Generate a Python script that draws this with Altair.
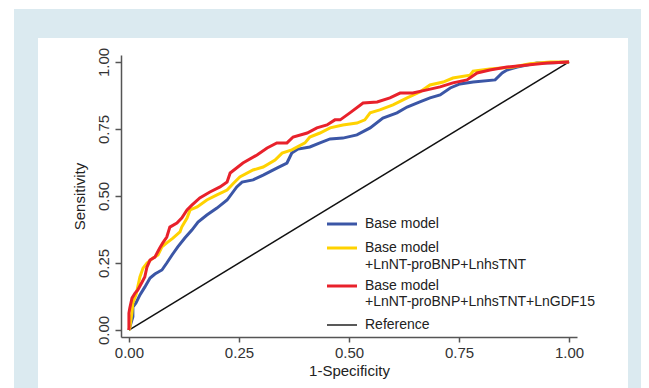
import altair as alt
import pandas as pd

# ROC curve points (1-Specificity, Sensitivity)
blue_x = [0, 0.009, 0.009, 0.016, 0.025, 0.036, 0.048, 0.059, 0.075, 0.086,
          0.098, 0.111, 0.127, 0.143, 0.157, 0.177, 0.200, 0.223, 0.245, 0.257,
          0.282, 0.305, 0.336, 0.359, 0.370, 0.384, 0.411, 0.434, 0.457, 0.486,
          0.518, 0.548, 0.577, 0.609, 0.632, 0.661, 0.684, 0.707, 0.730, 0.752,
          0.782, 0.832, 0.848, 0.859, 0.882, 0.927, 0.964, 1.0]
blue_y = [0, 0.049, 0.086, 0.101, 0.131, 0.160, 0.194, 0.209, 0.224, 0.250,
          0.280, 0.310, 0.343, 0.373, 0.403, 0.429, 0.455, 0.485, 0.534, 0.552,
          0.560, 0.578, 0.604, 0.623, 0.660, 0.675, 0.683, 0.698, 0.713, 0.716,
          0.728, 0.754, 0.791, 0.810, 0.832, 0.851, 0.866, 0.877, 0.903, 0.918,
          0.925, 0.933, 0.959, 0.970, 0.981, 0.996, 0.997, 1.0]

yellow_x = [0, 0.002, 0.007, 0.009, 0.016, 0.020, 0.025, 0.032, 0.041, 0.055,
            0.066, 0.075, 0.086, 0.100, 0.116, 0.120, 0.132, 0.139, 0.155, 0.177,
            0.200, 0.223, 0.236, 0.252, 0.282, 0.305, 0.332, 0.348, 0.370, 0.400,
            0.411, 0.434, 0.457, 0.486, 0.518, 0.536, 0.548, 0.570, 0.600, 0.632,
            0.661, 0.684, 0.714, 0.736, 0.775, 0.782, 0.820, 0.873, 0.911, 0.957,
            1.0]
yellow_y = [0, 0.007, 0.067, 0.101, 0.131, 0.160, 0.198, 0.231, 0.250, 0.269,
            0.280, 0.310, 0.325, 0.343, 0.366, 0.384, 0.418, 0.448, 0.459, 0.485,
            0.504, 0.522, 0.545, 0.571, 0.597, 0.608, 0.634, 0.660, 0.672, 0.698,
            0.720, 0.735, 0.754, 0.765, 0.772, 0.784, 0.810, 0.821, 0.840, 0.866,
            0.888, 0.914, 0.925, 0.940, 0.951, 0.966, 0.974, 0.981, 0.993, 1.0,
            1.0]

red_x = [0, 0, 0.002, 0.007, 0.014, 0.020, 0.030, 0.036, 0.041, 0.048,
         0.059, 0.070, 0.077, 0.086, 0.093, 0.109, 0.120, 0.132, 0.143, 0.161,
         0.184, 0.207, 0.223, 0.230, 0.259, 0.291, 0.314, 0.336, 0.359, 0.373,
         0.405, 0.427, 0.450, 0.468, 0.480, 0.502, 0.532, 0.564, 0.593, 0.616,
         0.645, 0.677, 0.707, 0.736, 0.768, 0.791, 0.820, 0.859, 0.905, 0.950,
         1.0]
red_y = [0, 0.063, 0.082, 0.119, 0.138, 0.149, 0.179, 0.198, 0.235, 0.261,
         0.272, 0.306, 0.325, 0.347, 0.384, 0.399, 0.418, 0.448, 0.466, 0.493,
         0.515, 0.534, 0.552, 0.586, 0.623, 0.653, 0.679, 0.698, 0.698, 0.720,
         0.735, 0.754, 0.765, 0.784, 0.784, 0.810, 0.847, 0.851, 0.866, 0.884,
         0.884, 0.896, 0.907, 0.922, 0.933, 0.959, 0.970, 0.981, 0.989, 0.996,
         1.0]

ref_x = [0, 1]
ref_y = [0, 1]

tick_values = [0, 0.25, 0.5, 0.75, 1.0]

FONT = "Liberation Sans"
BLUE = "#3b56a6"
YELLOW = "#ffd200"
RED = "#e8212b"
BG_BLUE = "#dbeaf0"


def frame(xs, ys):
    return pd.DataFrame({"x": xs, "y": ys, "i": list(range(len(xs)))})


xscale = alt.Scale(domain=[-0.018, 1.018], nice=False, zero=False)
yscale = alt.Scale(domain=[-0.026, 1.026], nice=False, zero=False)

xaxis = alt.Axis(values=tick_values, format=".2f", title="1-Specificity",
                 grid=False, tickSize=5, labelPadding=3, titlePadding=3, zindex=1,
                 labelFontSize=15, titleFontSize=15, labelFont=FONT, titleFont=FONT,
                 labelColor="#333333", titleColor="#222222", titleFontWeight="normal",
                 domainColor="#555555", tickColor="#555555", domainWidth=1.5, tickWidth=1.5)
yaxis = alt.Axis(values=tick_values, format=".2f", title="Sensitivity",
                 grid=False, tickSize=6, labelPadding=4, titlePadding=9, zindex=1,
                 labelAngle=-90, labelAlign="center", labelBaseline="bottom",
                 labelFontSize=15, titleFontSize=15, labelFont=FONT, titleFont=FONT,
                 labelColor="#333333", titleColor="#222222", titleFontWeight="normal",
                 domainColor="#555555", tickColor="#555555", domainWidth=1.5, tickWidth=1.5)

one = alt.Data(values=[{}])

bg_blue = alt.Chart(one).mark_rect(color=BG_BLUE).encode(
    x=alt.value(-107), x2=alt.value(520), y=alt.value(-46), y2=alt.value(333))
bg_white = alt.Chart(one).mark_rect(color="white").encode(
    x=alt.value(-83), x2=alt.value(507), y=alt.value(-17), y2=alt.value(333))


def curve(df, color, width):
    return alt.Chart(df).mark_line(color=color, strokeWidth=width).encode(
        x=alt.X("x:Q", scale=xscale, axis=xaxis),
        y=alt.Y("y:Q", scale=yscale, axis=yaxis),
        order="i:Q")


ref = curve(frame(ref_x, ref_y), "#111111", 1.5)
c_blue = curve(frame(blue_x, blue_y), BLUE, 3)
c_yellow = curve(frame(yellow_x, yellow_y), YELLOW, 3)
c_red = curve(frame(red_x, red_y), RED, 3)

# legend (drawn manually)
legend_layers = []
sym = [(169, BLUE, 3), (193, YELLOW, 3), (231, RED, 3), (270, "#222222", 1.5)]
for yv, col, w in sym:
    legend_layers.append(alt.Chart(one).mark_rule(color=col, strokeWidth=w).encode(
        x=alt.value(206), x2=alt.value(236), y=alt.value(yv)))
labels = [(169, "Base model"), (193, "Base model"), (210, "+LnNT-proBNP+LnhsTNT"),
          (231, "Base model"), (247, "+LnNT-proBNP+LnhsTNT+LnGDF15"), (270, "Reference")]
for yv, t in labels:
    legend_layers.append(alt.Chart(one).mark_text(
        align="left", baseline="middle", font=FONT, fontSize=14, color="#222222").encode(
        x=alt.value(244), y=alt.value(yv), text=alt.value(t)))

chart = alt.layer(bg_blue, bg_white, ref, c_blue, c_yellow, c_red, *legend_layers).properties(
    width=456, height=282,
    padding={"left": 6, "top": 1, "right": 0, "bottom": 0},
    background="white",
).configure_view(stroke=None)

chart.save("out.html", embed_options={"renderer": "svg", "actions": False})
